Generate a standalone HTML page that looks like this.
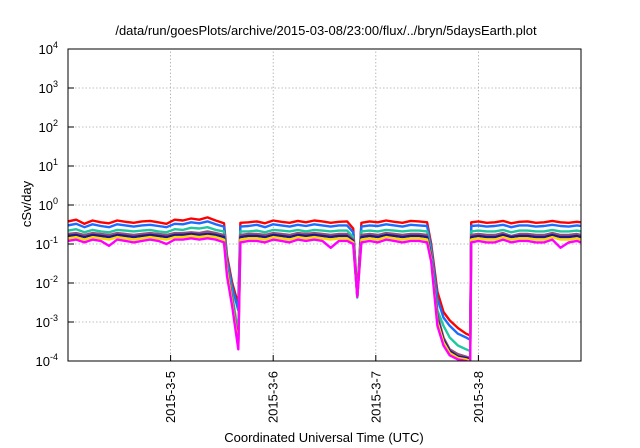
<!DOCTYPE html>
<html><head><meta charset="utf-8"><style>
html,body{margin:0;padding:0;background:#fff}
svg{display:block;font-family:"Liberation Sans",sans-serif}
</style></head><body>
<svg id="chart" width="640" height="448" viewBox="0 0 640 448" xmlns="http://www.w3.org/2000/svg">
<text x="326" y="35" font-size="13" text-anchor="middle">/data/run/goesPlots/archive/2015-03-08/23:00/flux/../bryn/5daysEarth.plot</text>
<text transform="translate(31,204) rotate(-90)" font-size="13" text-anchor="middle">cSv/day</text>
<text x="324" y="442" font-size="13" text-anchor="middle">Coordinated Universal Time (UTC)</text>
<g id="grid"></g><g id="yticks"></g><g id="xticks"></g>
<defs><clipPath id="clip"><rect x="68" y="49" width="513" height="312"/></clipPath></defs>
<g id="series" clip-path="url(#clip)"></g>
<rect x="68" y="49" width="513" height="312" fill="none" stroke="#000" stroke-width="1"/>
</svg>
<script>
const T=[4.00,4.08,4.16,4.24,4.32,4.40,4.48,4.56,4.64,4.72,4.80,4.88,4.96,5.04,5.12,5.20,5.28,5.36,5.44,5.52,5.55,5.60,5.66,5.68,5.76,5.84,5.92,6.00,6.08,6.16,6.24,6.32,6.40,6.48,6.56,6.64,6.72,6.78,6.82,6.86,6.94,7.02,7.10,7.18,7.26,7.34,7.42,7.50,7.54,7.60,7.66,7.72,7.80,7.88,7.92,7.93,8.00,8.08,8.16,8.24,8.32,8.40,8.48,8.56,8.64,8.72,8.80,8.88,8.96,9.00];
const red=[0.38,0.42,0.33,0.40,0.36,0.34,0.40,0.37,0.35,0.38,0.39,0.36,0.33,0.42,0.40,0.45,0.42,0.48,0.40,0.34,0.05,0.01,0.0028,0.35,0.36,0.38,0.34,0.40,0.37,0.35,0.39,0.36,0.40,0.38,0.35,0.37,0.38,0.25,0.005,0.35,0.38,0.36,0.40,0.37,0.35,0.39,0.38,0.36,0.1,0.006,0.0018,0.0011,0.0007,0.0005,0.00045,0.36,0.38,0.35,0.36,0.39,0.34,0.37,0.38,0.35,0.36,0.39,0.36,0.35,0.37,0.36];
const blue=[0.30,0.33,0.27,0.32,0.29,0.27,0.32,0.30,0.28,0.30,0.31,0.29,0.27,0.33,0.32,0.36,0.34,0.38,0.32,0.28,0.04,0.008,0.002,0.28,0.29,0.31,0.27,0.32,0.30,0.28,0.31,0.29,0.32,0.30,0.28,0.30,0.30,0.2,0.0045,0.28,0.30,0.29,0.32,0.30,0.28,0.31,0.30,0.29,0.08,0.004,0.0013,0.0008,0.0005,0.0004,0.00035,0.29,0.30,0.28,0.29,0.31,0.27,0.30,0.30,0.28,0.29,0.31,0.29,0.28,0.30,0.29];
const teal=[0.22,0.24,0.20,0.23,0.21,0.20,0.23,0.22,0.21,0.22,0.23,0.21,0.20,0.24,0.23,0.26,0.25,0.27,0.23,0.21,0.03,0.005,0.0005,0.21,0.21,0.22,0.20,0.23,0.22,0.21,0.23,0.21,0.23,0.22,0.21,0.22,0.22,0.15,0.0042,0.21,0.22,0.21,0.23,0.22,0.21,0.22,0.22,0.21,0.06,0.002,0.0008,0.0004,0.00025,0.0002,0.00018,0.21,0.22,0.21,0.21,0.23,0.20,0.22,0.22,0.21,0.21,0.23,0.21,0.21,0.22,0.21];
const purple=[0.18,0.19,0.17,0.19,0.18,0.17,0.19,0.18,0.17,0.18,0.19,0.18,0.17,0.19,0.19,0.20,0.19,0.21,0.19,0.17,0.025,0.004,0.0003,0.17,0.18,0.18,0.17,0.19,0.18,0.17,0.19,0.18,0.19,0.18,0.17,0.18,0.18,0.13,0.0045,0.17,0.18,0.17,0.19,0.18,0.17,0.18,0.18,0.17,0.05,0.0015,0.0004,0.0002,0.00015,0.00013,0.00012,0.17,0.18,0.17,0.17,0.19,0.16,0.18,0.18,0.17,0.17,0.19,0.17,0.17,0.18,0.17];
const navy=[0.16,0.17,0.15,0.17,0.16,0.15,0.17,0.16,0.15,0.16,0.17,0.16,0.15,0.17,0.17,0.18,0.17,0.18,0.17,0.15,0.02,0.003,0.00028,0.15,0.16,0.16,0.15,0.17,0.16,0.15,0.17,0.16,0.17,0.16,0.15,0.16,0.16,0.12,0.0045,0.15,0.16,0.15,0.17,0.16,0.15,0.16,0.16,0.15,0.045,0.0012,0.00035,0.00018,0.00013,0.00012,0.00011,0.15,0.16,0.15,0.15,0.17,0.15,0.16,0.16,0.15,0.15,0.17,0.15,0.15,0.16,0.15];
const yellow=[0.14,0.15,0.13,0.15,0.14,0.13,0.15,0.14,0.13,0.14,0.15,0.14,0.13,0.15,0.15,0.16,0.15,0.16,0.15,0.13,0.02,0.003,0.00025,0.13,0.14,0.14,0.13,0.15,0.14,0.13,0.15,0.14,0.15,0.14,0.13,0.14,0.14,0.11,0.0045,0.13,0.14,0.13,0.15,0.14,0.13,0.14,0.14,0.13,0.04,0.001,0.0003,0.00016,0.00012,0.00011,0.0001,0.13,0.14,0.13,0.13,0.15,0.13,0.14,0.14,0.13,0.13,0.15,0.13,0.13,0.14,0.13];
const magenta=[0.12,0.13,0.11,0.13,0.12,0.09,0.13,0.12,0.11,0.12,0.13,0.12,0.10,0.13,0.13,0.14,0.13,0.14,0.13,0.11,0.015,0.0025,0.0002,0.11,0.12,0.12,0.11,0.13,0.12,0.11,0.13,0.12,0.13,0.12,0.08,0.12,0.12,0.1,0.0045,0.11,0.12,0.11,0.13,0.12,0.11,0.12,0.12,0.11,0.035,0.0008,0.00025,0.00014,0.00011,0.0001,0.00009,0.11,0.12,0.11,0.11,0.13,0.11,0.12,0.12,0.11,0.11,0.13,0.08,0.11,0.12,0.11];
const yTickExp=[-4,-3,-2,-1,0,1,2,3,4];
const xTickDays=[5,6,7,8];
const xTickLabels=["2015-3-5","2015-3-6","2015-3-7","2015-3-8"];
const X0=68,X1=581,Y0=361,Y1=49;
function xs(d){return X0+(d-4)/(9-4)*(X1-X0);}
function ys(v){return Y0-(Math.log10(v)+4)/8*(Y0-Y1);}
const NS="http://www.w3.org/2000/svg";
function mk(tag,attrs,parent){const e=document.createElementNS(NS,tag);for(const k in attrs)e.setAttribute(k,attrs[k]);parent.appendChild(e);return e;}
const grid=document.getElementById('grid'),yt=document.getElementById('yticks'),xt=document.getElementById('xticks'),sg=document.getElementById('series');
yTickExp.forEach(e=>{const y=ys(Math.pow(10,e));
 if(e>-4&&e<4){const g=mk('line',{x1:X0,x2:X1,y1:y,y2:y,stroke:'#aaa','stroke-dasharray':'1.5,2','stroke-width':0.8},grid);
 
 }
 const t1=mk('line',{x1:X0,x2:X0+6,y1:y,y2:y,stroke:'#000'},yt);
 
 
 const tx=mk('text',{x:58,y:y+5,'font-size':13,'text-anchor':'end'},yt);
 
 
 tx.textContent='10';
 const sp=mk('tspan',{dy:-6,'font-size':9},tx);sp.textContent=String(e);});
xTickDays.forEach((d,i)=>{const x=xs(d);
 const g=mk('line',{x1:x,x2:x,y1:Y0,y2:Y1,stroke:'#aaa','stroke-dasharray':'1.5,2','stroke-width':0.8},grid);
 
 
 const t=mk('line',{x1:x,x2:x,y1:Y0,y2:Y0-6,stroke:'#000'},xt);
 
 
 const tx=mk('text',{transform:`translate(${x+4.5},${Y0+10}) rotate(-90)`,'font-size':13,'text-anchor':'end'},xt);
 
 
 tx.textContent=xTickLabels[i];});
const series=[["red",red,"#ff0000"],["blue",blue,"#1c6cff"],["teal",teal,"#20c8a0"],["purple",purple,"#94507a"],["navy",navy,"#1a1a8a"],["yellow",yellow,"#ffd800"],["magenta",magenta,"#ff00ff"]];
series.forEach(s=>{const d=T.map((t,i)=>(i?'L':'M')+xs(t).toFixed(1)+','+ys(s[1][i]).toFixed(1)).join('');
 const p=mk('path',{d:d,fill:'none',stroke:s[2],'stroke-width':2.4,'stroke-linejoin':'round'},sg);
 
 });
</script>
</body></html>
